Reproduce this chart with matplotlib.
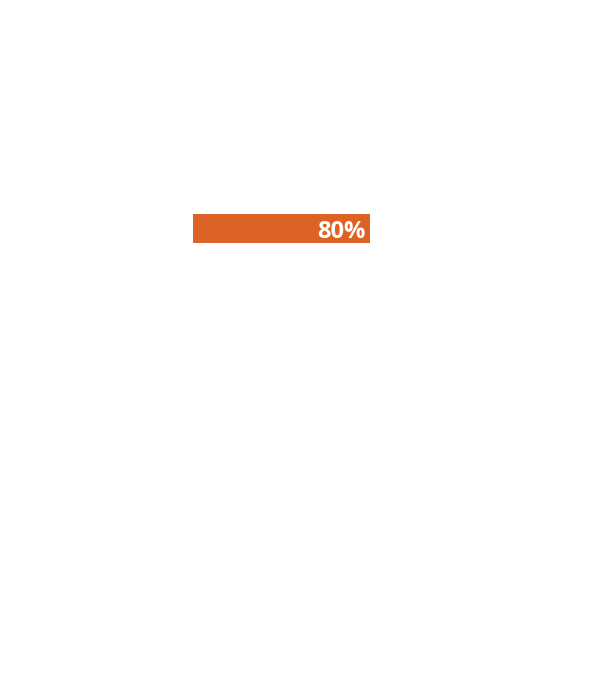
import matplotlib.pyplot as plt

# Data
labels = ['']
values = [80]
value_labels = ['80%']

fig = plt.figure(figsize=(6.05, 6.8), dpi=100)
ax = fig.add_axes([193 / 605, 1 - 243 / 680, 221 / 605, 29 / 680])

ax.barh(labels, values, height=1.0, color='#DD6325')
ax.set_xlim(0, 100)
ax.set_ylim(-0.5, 0.5)
ax.axis('off')

for i, (v, t) in enumerate(zip(values, value_labels)):
    ax.annotate(t, xy=(v, i), xytext=(-3, -6.8), textcoords='offset points',
                ha='right', va='baseline', color='white', fontsize=17,
                fontweight='bold', family=['Open Sans', 'DejaVu Sans'])

fig.savefig('out.png', dpi=100)
